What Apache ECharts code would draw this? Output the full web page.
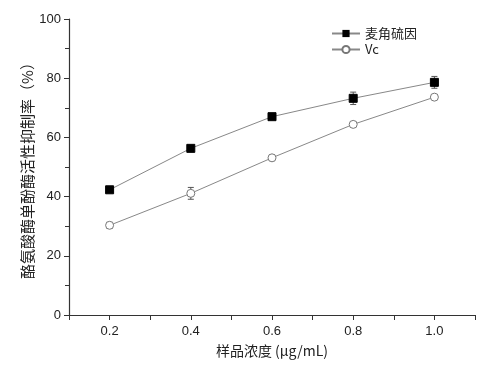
<!DOCTYPE html>
<html><head><meta charset="utf-8">
<script src="https://cdn.jsdelivr.net/npm/echarts@6/dist/echarts.min.js"></script>
<style>html,body{margin:0;padding:0;background:#fff}#c{width:482px;height:368px}</style>
</head><body><div id="c"></div>
<script>
var concentrations = [0.2, 0.4, 0.6, 0.8, 1.0];
var ergoName = '麦角硫因';
var ergoValues = [42.3, 56.3, 67.0, 73.2, 78.6];
var ergoErrors = [0.8, 0.8, 0.8, 2.1, 2.0];
var vcName = 'Vc';
var vcValues = [30.3, 41.1, 53.1, 64.4, 73.6];
var vcErrors = [1.0, 2.0, 0.8, 0.8, 0.8];
var xTitle = '样品浓度 (μg/mL)';
var yTitle = '酪氨酸酶单酚酶活性抑制率（%）';

var font = '"Liberation Sans", Arial, sans-serif';
function pairs(xs, ys){ return xs.map(function(x,i){return [x, ys[i]];}); }
function errData(xs, ys, es){ return xs.map(function(x,i){return [x, ys[i]-es[i], ys[i]+es[i]];}); }
function errSeries(data, z){
  return {
    type:'custom', silent:true, z:z, data:data,
    renderItem:function(params, api){
      var x = api.value(0);
      var lo = api.coord([x, api.value(1)]);
      var hi = api.coord([x, api.value(2)]);
      var w = 3;
      var st = {stroke:'#555', lineWidth:1};
      return {type:'group', children:[
        {type:'line', shape:{x1:lo[0],y1:lo[1],x2:hi[0],y2:hi[1]}, style:st},
        {type:'line', shape:{x1:lo[0]-w,y1:lo[1],x2:lo[0]+w,y2:lo[1]}, style:st},
        {type:'line', shape:{x1:hi[0]-w,y1:hi[1],x2:hi[0]+w,y2:hi[1]}, style:st}
      ]};
    }
  };
}
var chart = echarts.init(document.getElementById('c'));
chart.setOption({
  animation:false,
  backgroundColor:'#fff',
  grid:{left:69, right:7, top:19, bottom:53},
  legend:{
    orient:'vertical', left:326, top:22, itemWidth:28, itemHeight:9, itemGap:3,
    textStyle:{fontFamily:'"Noto Sans CJK SC", sans-serif', fontSize:13, color:'#222'},
    data:[{name:ergoName},{name:vcName}]
  },
  xAxis:{
    type:'value', min:0.1, max:1.1, interval:0.1,
    name:xTitle, nameLocation:'middle', nameGap:29, nameMoveOverlap:false,
    nameTextStyle:{fontFamily:'"Noto Sans CJK SC", sans-serif', fontSize:14, color:'#222'},
    axisLine:{lineStyle:{color:'#333', width:1.2}},
    axisTick:{length:5, lineStyle:{color:'#333'}},
    axisLabel:{fontFamily:font, fontSize:13, color:'#222', margin:10,
      formatter:function(v){ var k=Math.round(v*10); return k%2===0 ? (k/10).toFixed(1) : ''; }},
    splitLine:{show:false}
  },
  yAxis:{
    type:'value', min:0, max:100, interval:20,
    name:yTitle, nameLocation:'middle', nameGap:34, nameMoveOverlap:false,
    nameTextStyle:{fontFamily:'"Noto Sans CJK SC", sans-serif', fontSize:15, color:'#222'},
    axisLine:{show:true, lineStyle:{color:'#333', width:1.2}},
    axisTick:{show:true, length:5, lineStyle:{color:'#333'}},
    minorTick:{show:true, splitNumber:2, length:4, lineStyle:{color:'#333'}},
    axisLabel:{fontFamily:font, fontSize:13, color:'#222', margin:8},
    splitLine:{show:false}
  },
  series:[
    errSeries(errData(concentrations, ergoValues, ergoErrors), 1),
    errSeries(errData(concentrations, vcValues, vcErrors), 1),
    {name:ergoName, type:'line', data:pairs(concentrations, ergoValues), z:3,
     symbol:'rect', symbolSize:8,
     itemStyle:{color:'#000', borderColor:'#000'},
     lineStyle:{color:'#888', width:1}},
    {name:vcName, type:'line', data:pairs(concentrations, vcValues), z:3,
     symbol:'circle', symbolSize:8,
     itemStyle:{color:'#fff', borderColor:'#777', borderWidth:1},
     lineStyle:{color:'#888', width:1}}
  ]
});
</script></body></html>
